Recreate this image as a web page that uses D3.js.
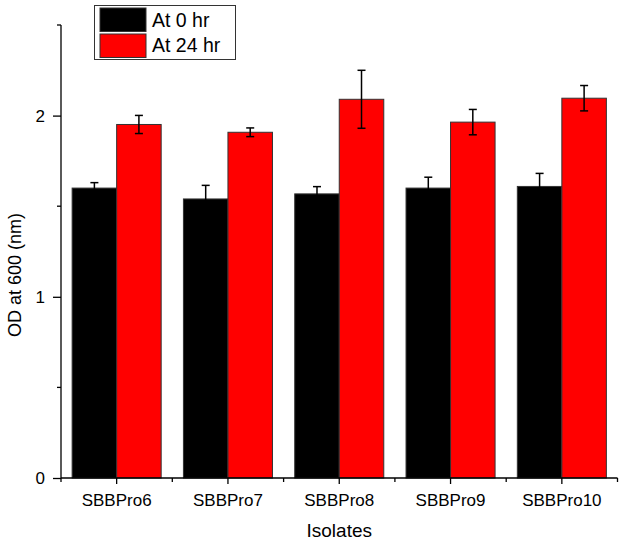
<!DOCTYPE html>
<html><head><meta charset="utf-8">
<script src="https://cdn.jsdelivr.net/npm/d3@7"></script>
<style>body{margin:0;background:#fff}svg{display:block}text{font-family:"Liberation Sans",Arial,sans-serif;fill:#000}</style>
</head><body><svg id="c" width="624" height="544"></svg>
<script>
const categories = ["SBBPro6","SBBPro7","SBBPro8","SBBPro9","SBBPro10"];
const seriesNames = ["At 0 hr","At 24 hr"];
const seriesColors = ["#000000","#ff0000"];
const at0 = [1.60,1.54,1.568,1.60,1.609];
const at0Err = [0.03,0.075,0.04,0.06,0.072];
const at24 = [1.951,1.908,2.09,1.964,2.096];
const at24Err = [0.05,0.024,0.16,0.07,0.07];
const yTicks = [0,1,2];
const yMinorTicks = [0.5,1.5,2.5];

const svg = d3.select("#c");
const L=61, R=617.5, T=25, B=478;
const x = d3.scaleBand().domain(categories).range([L,R]).paddingInner(0).paddingOuter(0);
const xs = d3.scaleBand().domain([0,1]).range([0,x.bandwidth()]).paddingInner(0).paddingOuter(0.25);
const y = d3.scaleLinear().domain([0,2.5]).range([B,T]);

const series = [at0,at24].map((vals,i)=>({i,vals,errs:[at0Err,at24Err][i]}));
const g = svg.append("g");
series.forEach(s=>{
  const gg = g.append("g");
  gg.selectAll("rect").data(categories).join("rect")
    .attr("x",(c)=>x(c)+xs(s.i)).attr("width",xs.bandwidth())
    .attr("y",(c,j)=>y(s.vals[j])).attr("height",(c,j)=>B-y(s.vals[j]))
    .attr("fill",seriesColors[s.i]).attr("stroke","#333").attr("stroke-width",1);
});
series.forEach(s=>{
  categories.forEach((c,j)=>{
    const cx = x(c)+xs(s.i)+xs.bandwidth()/2;
    const y1=y(s.vals[j]+s.errs[j]), y2=y(s.vals[j]-s.errs[j]);
    const eg=g.append("g").attr("stroke","#000").attr("stroke-width",1.5);
    eg.append("line").attr("x1",cx).attr("x2",cx).attr("y1",y1).attr("y2",y2);
    eg.append("line").attr("x1",cx-4).attr("x2",cx+4).attr("y1",y1).attr("y2",y1);
    eg.append("line").attr("x1",cx-4).attr("x2",cx+4).attr("y1",y2).attr("y2",y2);
  });
});

// Y axis
const ya = svg.append("g").attr("transform",`translate(${L},0)`)
  .call(d3.axisLeft(y).tickValues(yTicks).tickFormat(d3.format("d")).tickSize(8).tickPadding(8));
ya.select(".domain").attr("d",`M-0,${T}V${B}`).attr("stroke","#000").attr("stroke-width",1.3);
ya.selectAll(".tick line").attr("stroke","#000").attr("stroke-width",1.3);
ya.selectAll(".tick text").attr("font-size",17).attr("font-family","Liberation Sans, Arial, sans-serif");
svg.append("g").selectAll("line").data(yMinorTicks).join("line")
  .attr("x1",L-4).attr("x2",L).attr("y1",d=>y(d)).attr("y2",d=>y(d)).attr("stroke","#000").attr("stroke-width",1.3);

// X axis
const xa = svg.append("g").attr("transform",`translate(0,${B})`)
  .call(d3.axisBottom(x).tickSize(6).tickPadding(10));
xa.select(".domain").attr("d",`M${L},0H${R}`).attr("stroke","#000").attr("stroke-width",1.3);
xa.selectAll(".tick line").attr("stroke","#000").attr("stroke-width",1.3);
xa.selectAll(".tick text").attr("font-size",17).attr("font-family","Liberation Sans, Arial, sans-serif");
const bounds = categories.map(c=>x(c)).concat([R]);
svg.append("g").selectAll("line").data(bounds).join("line")
  .attr("x1",d=>d).attr("x2",d=>d).attr("y1",B).attr("y2",B+4).attr("stroke","#000").attr("stroke-width",1.3);

// Titles
svg.append("text").attr("x",(L+R)/2).attr("y",537).attr("text-anchor","middle").attr("font-size",19).text("Isolates");
svg.append("text").attr("transform","translate(21,275) rotate(-90)").attr("text-anchor","middle").attr("font-size",18).text("OD at 600 (nm)");

// Legend
const lg = svg.append("g");
lg.append("rect").attr("x",94.5).attr("y",5.5).attr("width",141).attr("height",54).attr("fill","#fff").attr("stroke","#333").attr("stroke-width",1);
seriesNames.forEach((n,i)=>{
  lg.append("rect").attr("x",100).attr("y",8+i*26).attr("width",46).attr("height",23.5)
    .attr("fill",seriesColors[i]).attr("stroke","#333").attr("stroke-width",1);
  lg.append("text").attr("x",152).attr("y",27+i*25).attr("font-size",19.5).text(n);
});
</script></body></html>
